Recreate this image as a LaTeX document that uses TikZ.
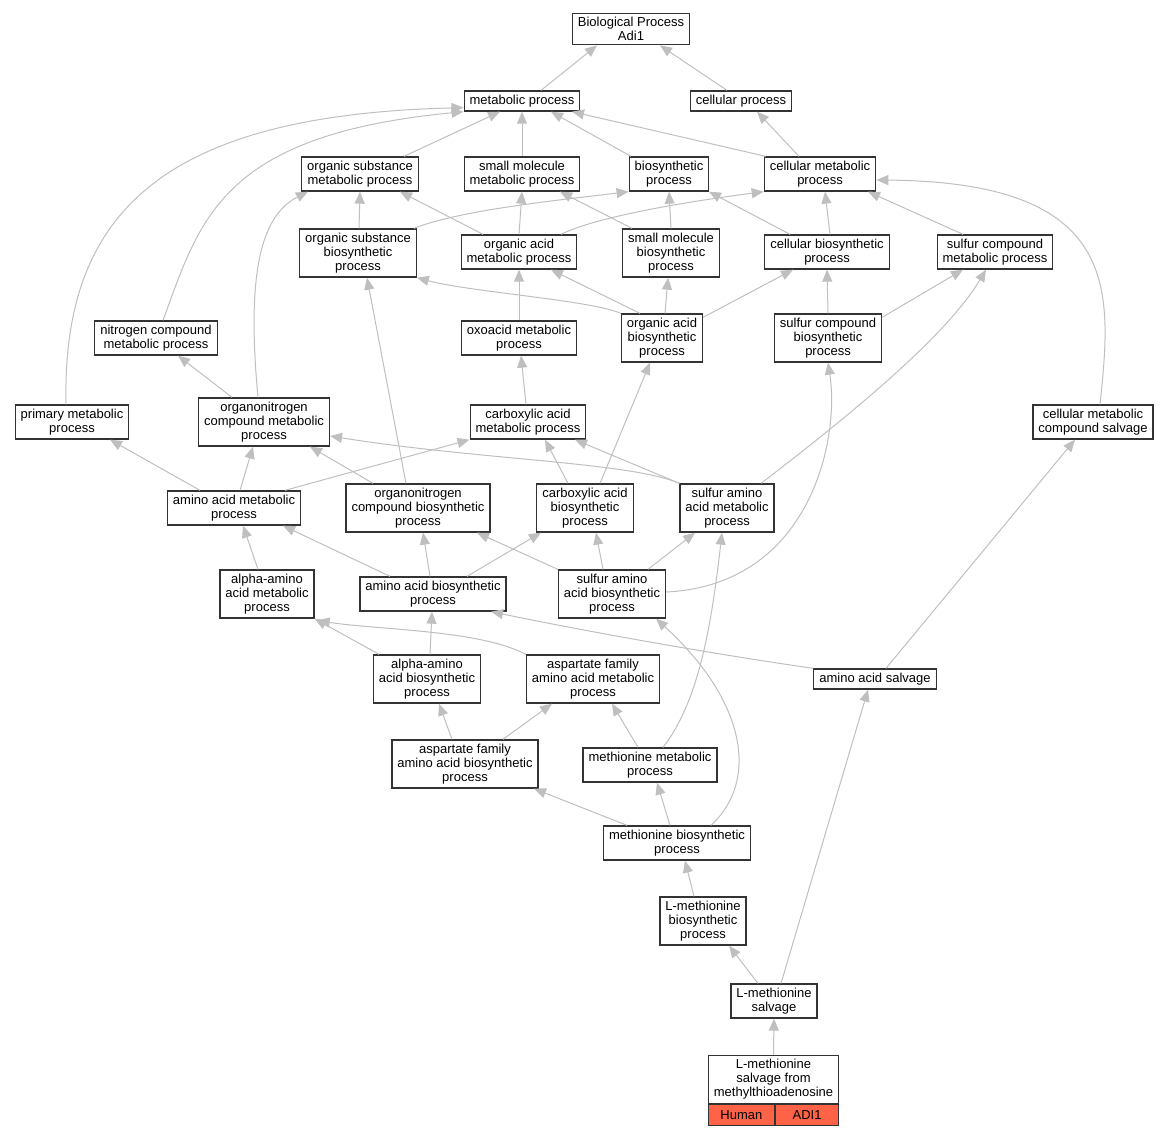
\documentclass[tikz,border=0pt]{standalone}
\usepackage{fontspec}
\setmainfont{Liberation Sans}
\usetikzlibrary{arrows.meta}
\definecolor{eGray}{gray}{0.75}
\definecolor{bGray}{gray}{0.2}
\definecolor{hitRed}{RGB}{255,99,71}
\tikzset{
    term/.style={rectangle, draw=bGray, line width=1.2pt, fill=white, align=center, inner xsep=5.5pt, inner ysep=4pt, font=\fontsize{13}{14}\selectfont},
    hit/.style={term, fill=hitRed, inner ysep=2pt, minimum height=21pt},
    isa/.style={draw=eGray, line width=1pt, -{Triangle[length=12pt,width=10pt]}}
}

\begin{document}
\begin{tikzpicture}[x=1pt,y=-1pt]
\useasboundingbox (0,0) rectangle (1169,1136);
\node[term] (bp)        at ( 631,  29) {Biological Process\\Adi1};
\node[term] (metab)     at ( 522, 101) {metabolic process};
\node[term] (cellp)     at ( 741, 101) {cellular process};
\node[term] (orgsubmet) at ( 360, 174) {organic substance\\metabolic process};
\node[term] (smmet)     at ( 522, 174) {small molecule\\metabolic process};
\node[term] (bios)      at ( 669, 174) {biosynthetic\\process};
\node[term] (cellmet)   at ( 820, 174) {cellular metabolic\\process};
\node[term] (orgsubbio) at ( 358, 253) {organic substance\\biosynthetic\\process};
\node[term] (orgacmet)  at ( 519, 252) {organic acid\\metabolic process};
\node[term] (smbio)     at ( 671, 253) {small molecule\\biosynthetic\\process};
\node[term] (cellbio)   at ( 827, 252) {cellular biosynthetic\\process};
\node[term] (sulfmet)   at ( 995, 252) {sulfur compound\\metabolic process};
\node[term] (nitmet)    at ( 156, 338) {nitrogen compound\\metabolic process};
\node[term] (oxomet)    at ( 519, 338) {oxoacid metabolic\\process};
\node[term] (orgacbio)  at ( 662, 338) {organic acid\\biosynthetic\\process};
\node[term] (sulfbio)   at ( 828, 338) {sulfur compound\\biosynthetic\\process};
\node[term] (primet)    at (  72, 422) {primary metabolic\\process};
\node[term] (onmet)     at ( 264, 422) {organonitrogen\\compound metabolic\\process};
\node[term] (carbmet)   at ( 528, 422) {carboxylic acid\\metabolic process};
\node[term] (salvcomp)  at (1093, 422) {cellular metabolic\\compound salvage};
\node[term] (aamet)     at ( 234, 508) {amino acid metabolic\\process};
\node[term] (onbio)     at ( 418, 508) {organonitrogen\\compound biosynthetic\\process};
\node[term] (carbbio)   at ( 585, 508) {carboxylic acid\\biosynthetic\\process};
\node[term] (saamet)    at ( 727, 508) {sulfur amino\\acid metabolic\\process};
\node[term] (alphamet)  at ( 267, 594) {alpha-amino\\acid metabolic\\process};
\node[term] (aabio)     at ( 433, 594) {amino acid biosynthetic\\process};
\node[term] (saabio)    at ( 612, 594) {sulfur amino\\acid biosynthetic\\process};
\node[term] (alphabio)  at ( 427, 679) {alpha-amino\\acid biosynthetic\\process};
\node[term] (aspmet)    at ( 593, 679) {aspartate family\\amino acid metabolic\\process};
\node[term] (aasalv)    at ( 875, 679) {amino acid salvage};
\node[term] (aspbio)    at ( 465, 764) {aspartate family\\amino acid biosynthetic\\process};
\node[term] (metmet)    at ( 650, 765) {methionine metabolic\\process};
\node[term] (metbio)    at ( 677, 843) {methionine biosynthetic\\process};
\node[term] (lmetbio)   at ( 703, 921) {L-methionine\\biosynthetic\\process};
\node[term] (lmetsalv)  at ( 774,1001) {L-methionine\\salvage};
\node[term,minimum width=129pt] (mta) at (773.5,1079.5) {L-methionine\\salvage from\\methylthioadenosine};
\node[hit,anchor=north west,minimum width=66pt] (human) at (mta.south west) {Human};
\node[hit,anchor=north west,minimum width=63pt] (adi)   at (human.north east) {ADI1};
\draw[isa] ([xshift=19pt]metab.north) -- ([xshift=-34pt]bp.south);
\draw[isa] ([xshift=-14pt]cellp.north) -- ([xshift=29pt]bp.south);
\draw[isa] ([xshift=-6pt]primet.north) .. controls (62,215) and (160,115) .. ([yshift=4pt]metab.south west);
\draw[isa] ([xshift=7pt]nitmet.north) .. controls (200,220) and (220,135) .. (metab.south west);
\draw[isa] ([xshift=44pt]orgsubmet.north) -- ([xshift=-22pt]metab.south);
\draw[isa] (smmet.north) -- (metab.south);
\draw[isa] ([xshift=-38pt]bios.north) -- ([xshift=29pt]metab.south);
\draw[isa] ([xshift=2pt]cellmet.north west) -- ([xshift=50pt]metab.south);
\draw[isa] ([xshift=-21pt]cellmet.north) -- ([xshift=16pt]cellp.south);
\draw[isa] ([xshift=1pt]orgsubbio.north) -- (orgsubmet.south);
\draw[isa] ([xshift=-6pt]onmet.north) .. controls (246,270) and (262,215) .. ([xshift=-52pt]orgsubmet.south);
\draw[isa] ([xshift=-36pt]orgacmet.north) -- ([xshift=40pt]orgsubmet.south);
\draw[isa] (orgacmet.north) -- (smmet.south);
\draw[isa] ([xshift=-39pt]smbio.north) -- ([xshift=38pt]smmet.south);
\draw[isa] ([xshift=56pt]orgsubbio.north) .. controls (460,210) and (560,200) .. (bios.south west);
\draw[isa] (smbio.north) -- (bios.south);
\draw[isa] ([xshift=-37pt]cellbio.north) -- ([xshift=40pt]bios.south);
\draw[isa] ([xshift=42pt]orgacmet.north) .. controls (600,215) and (700,200) .. (cellmet.south west);
\draw[isa] ([xshift=3pt]cellbio.north) -- ([xshift=5pt]cellmet.south);
\draw[isa] ([xshift=-32pt]sulfmet.north) -- ([xshift=48pt]cellmet.south);
\draw[isa] ([xshift=7pt]salvcomp.north) .. controls (1112,290) and (1122,182) .. ([yshift=-6pt]cellmet.east);
\draw[isa] (orgacbio.north west) .. controls (590,300) and (470,292) .. (orgsubbio.south east);
\draw[isa] ([xshift=-12pt]onbio.north) -- ([xshift=9pt]orgsubbio.south);
\draw[isa] (oxomet.north) -- (orgacmet.south);
\draw[isa] ([xshift=-22pt]orgacbio.north) -- ([xshift=32pt]orgacmet.south);
\draw[isa] ([xshift=3pt]orgacbio.north) -- ([xshift=-3pt]smbio.south);
\draw[isa] ([yshift=-4pt]orgacbio.north east) -- ([xshift=-34pt]cellbio.south);
\draw[isa] (sulfbio.north) -- (cellbio.south);
\draw[isa] ([yshift=-4pt]sulfbio.north east) -- ([xshift=-32pt]sulfmet.south);
\draw[isa] ([xshift=34pt]saamet.north) .. controls (870,400) and (950,330) .. ([xshift=-9pt]sulfmet.south);
\draw[isa] ([xshift=-32pt]onmet.north) -- ([xshift=22pt]nitmet.south);
\draw[isa] ([xshift=-2pt]carbmet.north) -- ([xshift=2pt]oxomet.south);
\draw[isa] ([xshift=15pt]carbbio.north) -- ([xshift=-12pt]orgacbio.south);
\draw[isa] ([yshift=2pt]saabio.east) .. controls (810,585) and (840,440) .. (sulfbio.south);
\draw[isa] ([xshift=-34pt]aamet.north) -- ([xshift=38pt]primet.south);
\draw[isa] ([xshift=6pt]aamet.north) -- ([xshift=-11pt]onmet.south);
\draw[isa] ([xshift=-45pt]onbio.north) -- ([xshift=46pt]onmet.south);
\draw[isa] (saamet.north west) .. controls (630,462) and (480,460) .. ([yshift=-14pt]onmet.east);
\draw[isa] ([xshift=51pt]aamet.north) -- (carbmet.south west);
\draw[isa] ([xshift=-17pt]carbbio.north) -- ([xshift=17pt]carbmet.south);
\draw[isa] (saamet.north west) -- ([xshift=47pt]carbmet.south);
\draw[isa] ([xshift=11pt]aasalv.north) -- ([xshift=-18pt]salvcomp.south);
\draw[isa] ([xshift=-9pt]alphamet.north) -- ([xshift=9pt]aamet.south);
\draw[isa] ([xshift=-43pt]aabio.north) -- ([xshift=49pt]aamet.south);
\draw[isa] ([xshift=-3pt]aabio.north) -- ([xshift=5pt]onbio.south);
\draw[isa] (saabio.north west) -- ([xshift=59pt]onbio.south);
\draw[isa] ([xshift=34pt]aabio.north) -- ([xshift=-44pt]carbbio.south);
\draw[isa] ([xshift=-9pt]saabio.north) -- ([xshift=11pt]carbbio.south);
\draw[isa] ([xshift=36pt]saabio.north) -- ([xshift=-32pt]saamet.south);
\draw[isa] ([xshift=13pt]metmet.north) .. controls (700,700) and (712,620) .. ([xshift=-5pt]saamet.south);
\draw[isa] ([xshift=-48pt]alphabio.north) -- (alphamet.south east);
\draw[isa] (aspmet.north west) .. controls (480,630) and (380,630) .. ([xshift=3pt,yshift=-2pt]alphamet.south east);
\draw[isa] ([xshift=3pt]alphabio.north) -- ([xshift=-1pt]aabio.south);
\draw[isa] (aasalv.north west) .. controls (700,652) and (580,630) .. ([xshift=58pt]aabio.south);
\draw[isa] ([xshift=34pt]metbio.north) .. controls (760,780) and (745,700) .. ([xshift=44pt]saabio.south);
\draw[isa] ([xshift=-13pt]aspbio.north) -- ([xshift=12pt]alphabio.south);
\draw[isa] ([xshift=38pt]aspbio.north) -- ([xshift=-41pt]aspmet.south);
\draw[isa] ([xshift=-12pt]metmet.north) -- ([xshift=19pt]aspmet.south);
\draw[isa] ([xshift=7pt]lmetsalv.north) -- ([xshift=-7pt]aasalv.south);
\draw[isa] ([xshift=-50pt]metbio.north) -- ([xshift=69pt]aspbio.south);
\draw[isa] ([xshift=-7pt]metbio.north) -- ([xshift=7pt]metmet.south);
\draw[isa] ([xshift=-9pt]lmetbio.north) -- ([xshift=8pt]metbio.south);
\draw[isa] ([xshift=-16pt]lmetsalv.north) -- ([xshift=26pt]lmetbio.south);
\draw[isa] (mta.north) -- (lmetsalv.south);
\end{tikzpicture}
\end{document}
